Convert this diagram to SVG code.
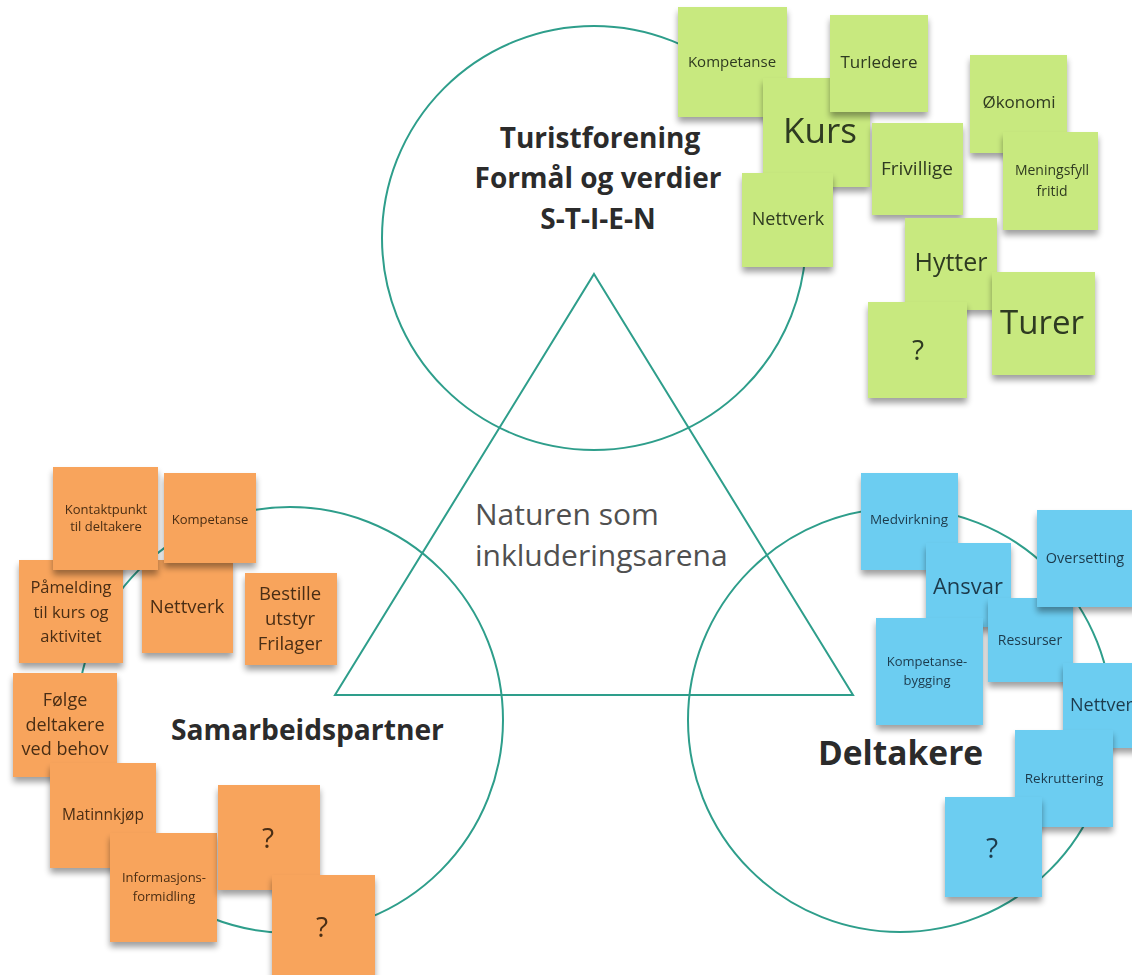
<svg xmlns="http://www.w3.org/2000/svg" width="1132" height="975" viewBox="0 0 1132 975">
<defs>
<filter id="sh" x="-15%" y="-15%" width="130%" height="140%">
<feGaussianBlur in="SourceAlpha" stdDeviation="3"/>
<feOffset dy="5" result="b"/>
<feComponentTransfer><feFuncA type="linear" slope="0.38"/></feComponentTransfer>
<feMerge><feMergeNode/><feMergeNode in="SourceGraphic"/></feMerge>
</filter>
</defs>
<style>
text{font-family:"Open Sans","Liberation Sans",sans-serif}
.ring{fill:none;stroke:#2e9e8b;stroke-width:2}
.note{filter:url(#sh)}
.gr rect{fill:#c8e97f}
.gr text{fill:#2f3a20;text-anchor:middle}
.or rect{fill:#f8a45b}
.or text{fill:#4a2d14;text-anchor:middle}
.bl rect{fill:#6ccdf1}
.bl text{fill:#1d3a4c;text-anchor:middle}
.title{font-weight:bold;fill:#2b2b2b}
.mid{fill:#505050}
</style>
<rect width="1132" height="975" fill="#ffffff"/>

<g id="frame">
<circle class="ring" cx="594" cy="238" r="212"/>
<circle class="ring" cx="290" cy="720" r="213"/>
<circle class="ring" cx="900" cy="720" r="212"/>
<polygon class="ring" points="594,274 853,695 335,695"/>
</g>

<g id="turistforening">
<text class="title" x="600" y="148" font-size="28" text-anchor="middle">Turistforening</text>
<text class="title" x="598" y="188" font-size="28" text-anchor="middle">Formål og verdier</text>
<text class="title" x="598" y="229" font-size="28" text-anchor="middle">S-T-I-E-N</text>
</g>
<g id="naturen">
<text class="mid" x="475" y="525" font-size="30">Naturen som</text>
<text class="mid" x="475" y="566" font-size="30">inkluderingsarena</text>
</g>
<g id="samarbeidspartner">
<text class="title" x="171" y="740" font-size="28.2">Samarbeidspartner</text>
</g>
<g id="deltakere">
<text class="title" x="818" y="765" font-size="33.5">Deltakere</text>
</g>

<!-- green notes -->
<g id="g-kompetanse" class="note gr"><rect x="678" y="7" width="109" height="110"/><text x="732" y="67" font-size="15">Kompetanse</text></g>
<g id="g-kurs" class="note gr"><rect x="763" y="78" width="107" height="109"/><text x="820" y="143" font-size="35">Kurs</text></g>
<g id="g-turledere" class="note gr"><rect x="830" y="15" width="98" height="97"/><text x="879" y="68" font-size="17">Turledere</text></g>
<g id="g-nettverk" class="note gr"><rect x="742" y="173" width="91" height="94"/><text x="788" y="225" font-size="18">Nettverk</text></g>
<g id="g-frivillige" class="note gr"><rect x="872" y="123" width="91" height="92"/><text x="917" y="175" font-size="19">Frivillige</text></g>
<g id="g-okonomi" class="note gr"><rect x="970" y="55" width="97" height="98"/><text x="1019" y="108" font-size="17">Økonomi</text></g>
<g id="g-meningsfyll" class="note gr"><rect x="1003" y="132" width="95" height="98"/><text x="1052" y="175" font-size="14">Meningsfyll</text><text x="1052" y="196" font-size="14">fritid</text></g>
<g id="g-hytter" class="note gr"><rect x="905" y="218" width="92" height="92"/><text x="951" y="271" font-size="25">Hytter</text></g>
<g id="g-q" class="note gr"><rect x="868" y="302" width="99" height="96"/><text x="918" y="360" font-size="28">?</text></g>
<g id="g-turer" class="note gr"><rect x="992" y="272" width="103" height="103"/><text x="1042" y="334" font-size="33">Turer</text></g>

<!-- orange notes -->
<g id="o-pamelding" class="note or"><rect x="19" y="560" width="104" height="103"/><text x="71" y="593" font-size="16.5">Påmelding</text><text x="71" y="618" font-size="16.5">til kurs og</text><text x="71" y="642" font-size="16.5">aktivitet</text></g>
<g id="o-nettverk" class="note or"><rect x="142" y="560" width="91" height="93"/><text x="187" y="613" font-size="18.5">Nettverk</text></g>
<g id="o-kontaktpunkt" class="note or"><rect x="53" y="467" width="105" height="103"/><text x="106" y="514" font-size="13">Kontaktpunkt</text><text x="106" y="531" font-size="13">til deltakere</text></g>
<g id="o-kompetanse" class="note or"><rect x="164" y="473" width="92" height="90"/><text x="210" y="524" font-size="13">Kompetanse</text></g>
<g id="o-bestille" class="note or"><rect x="245" y="573" width="92" height="92"/><text x="290" y="600" font-size="18.5">Bestille</text><text x="290" y="625" font-size="18.5">utstyr</text><text x="290" y="650" font-size="18.5">Frilager</text></g>
<g id="o-folge" class="note or"><rect x="13" y="673" width="104" height="104"/><text x="65" y="706" font-size="18">Følge</text><text x="65" y="731" font-size="18">deltakere</text><text x="65" y="755" font-size="18">ved behov</text></g>
<g id="o-matinnkjop" class="note or"><rect x="50" y="763" width="106" height="105"/><text x="103" y="820" font-size="15.5">Matinnkjøp</text></g>
<g id="o-informasjon" class="note or"><rect x="110" y="833" width="107" height="109"/><text x="164" y="882" font-size="13">Informasjons-</text><text x="164" y="901" font-size="13">formidling</text></g>
<g id="o-q1" class="note or"><rect x="218" y="785" width="102" height="105"/><text x="268" y="848" font-size="28">?</text></g>
<g id="o-q2" class="note or"><rect x="272" y="875" width="103" height="110"/><text x="322" y="937" font-size="28">?</text></g>

<!-- blue notes -->
<g id="b-medvirkning" class="note bl"><rect x="861" y="473" width="97" height="97"/><text x="909" y="524" font-size="13.5">Medvirkning</text></g>
<g id="b-ansvar" class="note bl"><rect x="926" y="543" width="85" height="84"/><text x="968" y="594" font-size="22">Ansvar</text></g>
<g id="b-ressurser" class="note bl"><rect x="988" y="598" width="85" height="84"/><text x="1030" y="645" font-size="14">Ressurser</text></g>
<g id="b-oversetting" class="note bl"><rect x="1037" y="510" width="100" height="97"/><text x="1085" y="563" font-size="14.5">Oversetting</text></g>
<g id="b-kompetansebygging" class="note bl"><rect x="876" y="618" width="107" height="107"/><text x="927" y="666" font-size="13">Kompetanse-</text><text x="927" y="685" font-size="13">bygging</text></g>
<g id="b-nettverk" class="note bl"><rect x="1063" y="663" width="80" height="85"/><text x="1070" y="711" font-size="18" style="text-anchor:start">Nettverk</text></g>
<g id="b-rekruttering" class="note bl"><rect x="1015" y="730" width="98" height="97"/><text x="1064" y="783" font-size="13.5">Rekruttering</text></g>
<g id="b-q" class="note bl"><rect x="945" y="797" width="97" height="100"/><text x="992" y="858" font-size="28">?</text></g>
</svg>
